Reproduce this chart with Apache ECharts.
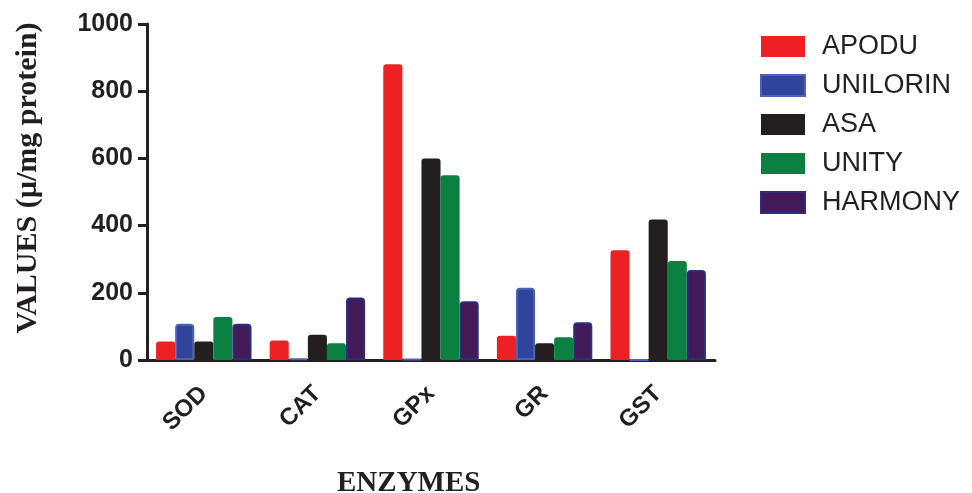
<!DOCTYPE html>
<html>
<head>
<meta charset="utf-8">
<script src="https://cdn.jsdelivr.net/npm/echarts@6/dist/echarts.min.js"></script>
<style>
  html, body { margin: 0; padding: 0; background: #fff; }
  #echartzone { width: 972px; height: 493px; }
</style>
</head>
<body>
<div id="echartzone"></div>
<script>
var enzymes = ['SOD', 'CAT', 'GPx', 'GR', 'GST'];
var apodu = [55, 58, 880, 72, 327];
var unilorin = [108, 4, 3, 215, 0];
var asa = [55, 75, 600, 50, 418];
var unity = [128, 50, 550, 68, 295];
var harmony = [108, 186, 175, 112, 268];
var yTicks = [0, 200, 400, 600, 800, 1000];

var chartDom = document.getElementById('echartzone');
var myChart = echarts.init(chartDom);

const mkSeries = (name, data, fill, border) => {
  return {
    name: name,
    type: 'bar',
    data: data,
    barGap: '0%',
    barCategoryGap: '16%',
    itemStyle: {
      color: fill,
      borderColor: border,
      borderWidth: border ? 2 : 0,
      borderRadius: [3, 3, 0, 0]
    }
  };
};

var option = {
  animation: false,
  title: {
    text: 'ENZYMES',
    left: 337,
    top: 469,
    padding: 0,
    textStyle: { fontFamily: 'Liberation Serif', fontWeight: 'bold', fontSize: 29, color: '#231F20' }
  },
  legend: {
    orient: 'vertical',
    left: 755,
    top: 28,
    icon: 'rect',
    itemWidth: 44,
    itemHeight: 21,
    itemGap: 12,
    textStyle: { fontFamily: 'Liberation Sans', fontSize: 27, color: '#231F20', padding: [0, 0, 0, 12] },
    data: ['APODU', 'UNILORIN', 'ASA', 'UNITY', 'HARMONY']
  },
  grid: { left: 147, right: 257, top: 24, bottom: 133, containLabel: false },
  xAxis: {
    type: 'category',
    data: enzymes,
    axisLine: { lineStyle: { color: '#231F20', width: 3 } },
    axisTick: { alignWithLabel: true, length: 9, lineStyle: { color: '#231F20', width: 3 } },
    axisLabel: {
      rotate: 45, margin: 30,
      fontFamily: 'Liberation Sans', fontWeight: 'bold', fontSize: 24, color: '#231F20'
    }
  },
  yAxis: {
    type: 'value',
    min: yTicks[0],
    max: yTicks[yTicks.length - 1],
    interval: 200,
    name: 'VALUES (µ/mg protein)',
    nameLocation: 'middle',
    nameGap: 104,
    nameTextStyle: { fontFamily: 'Liberation Serif', fontWeight: 'bold', fontSize: 30, color: '#231F20', padding: [0, 0, 0, 28] },
    splitLine: { show: false },
    axisLine: { show: true, lineStyle: { color: '#231F20', width: 3 } },
    axisTick: { show: true, length: 9, lineStyle: { color: '#231F20', width: 3 } },
    axisLabel: {
      margin: 14,
      formatter: (v) => String(v),
      fontFamily: 'Liberation Sans', fontWeight: 'bold', fontSize: 25, color: '#231F20'
    }
  },
  series: [
    mkSeries('APODU', apodu, '#ED2024', null),
    mkSeries('UNILORIN', unilorin, '#30449C', '#4A63B4'),
    mkSeries('ASA', asa, '#231F20', null),
    mkSeries('UNITY', unity, '#0A8140', null),
    mkSeries('HARMONY', harmony, '#421A58', '#2B2E7E')
  ]
};

myChart.setOption(option);
</script>
</body>
</html>
